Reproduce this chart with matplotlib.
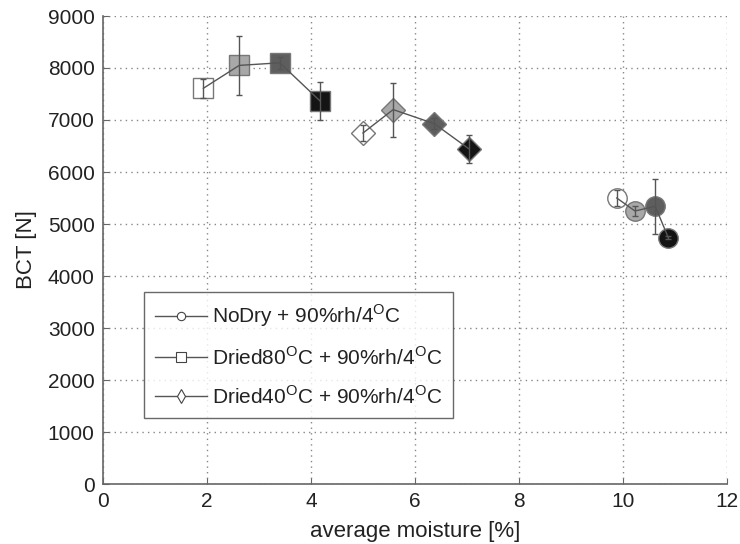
import matplotlib
matplotlib.use("Agg")
import matplotlib.pyplot as plt
from matplotlib.lines import Line2D

plt.rcParams['font.family'] = ['Liberation Sans', 'DejaVu Sans']
plt.rcParams['mathtext.fontset'] = 'custom'
plt.rcParams['mathtext.rm'] = 'Liberation Sans'

# Data
nodry_x = [9.88, 10.23, 10.62, 10.87]
nodry_y = [5500, 5250, 5340, 4740]
nodry_err = [150, 100, 530, 30]

dried80_x = [1.93, 2.62, 3.40, 4.17]
dried80_y = [7610, 8050, 8100, 7370]
dried80_err = [180, 570, 120, 370]

dried40_x = [5.00, 5.58, 6.37, 7.03]
dried40_y = [6750, 7200, 6930, 6450]
dried40_err = [150, 520, 100, 270]

fills = ['#ffffff', '#a8a8a8', '#5e5e5e', '#141414']
labels = [r'NoDry + 90%rh/4$^{\mathrm{O}}$C',
          r'Dried80$^{\mathrm{O}}$C + 90%rh/4$^{\mathrm{O}}$C',
          r'Dried40$^{\mathrm{O}}$C + 90%rh/4$^{\mathrm{O}}$C']

fig = plt.figure(figsize=(7.4, 5.44), dpi=100)
ax = fig.add_axes([103/740, (544-484)/544, 624/740, 468/544])

series = [
    (nodry_x, nodry_y, nodry_err, 'o', 14),
    (dried80_x, dried80_y, dried80_err, 's', 14),
    (dried40_x, dried40_y, dried40_err, 'D', 12),
]
linec = '#555555'
edgec = '#777777'
for xs, ys, es, mk, ms in series:
    for x, y, f in zip(xs, ys, fills):
        ax.plot([x], [y], linestyle='none', marker=mk, markersize=ms,
                markerfacecolor=f, markeredgecolor=edgec, markeredgewidth=1.0, zorder=2)
    ax.plot(xs, ys, color=linec, lw=1.0, zorder=3)
    ax.errorbar(xs, ys, yerr=es, fmt='none', ecolor=linec, elinewidth=1.0,
                capsize=2.5, capthick=1.0, zorder=3)

ax.set_xlim(0, 12)
ax.set_ylim(0, 9000)
ax.set_xticks(range(0, 13, 2))
ax.set_yticks(range(0, 9001, 1000))
ax.grid(True, linestyle=(0, (1, 3)), color='#888888', linewidth=1.0)
for s in ['top', 'right']:
    ax.spines[s].set_visible(False)
for s in ['left', 'bottom']:
    ax.spines[s].set_color('#666666')
    ax.spines[s].set_linewidth(1.2)
ax.tick_params(direction='in', length=4, colors='#666666', labelcolor='#222222',
               labelsize=15, width=0.8, pad=6)
ax.set_xlabel('average moisture [%]', fontsize=16, color='#222222', labelpad=7)
ax.set_ylabel('BCT [N]', fontsize=16, color='#222222', labelpad=8)

handles = [Line2D([], [], color=linec, lw=1.0, marker=m, markersize=ms,
                  markerfacecolor='white', markeredgecolor='#444444', markeredgewidth=0.8)
           for m, ms in [('o', 6), ('s', 7), ('d', 7)]]
leg = ax.legend(handles, labels, loc='lower left', bbox_to_anchor=(0.066, 0.141),
                fontsize=15, frameon=True, fancybox=False, handlelength=2.5,
                handletextpad=0.25, labelspacing=0.8, borderpad=0.5,
                labelcolor='#222222', borderaxespad=0)
leg.get_frame().set_edgecolor('#444444')
leg.get_frame().set_linewidth(1.0)

fig.savefig('out.png', dpi=100)
